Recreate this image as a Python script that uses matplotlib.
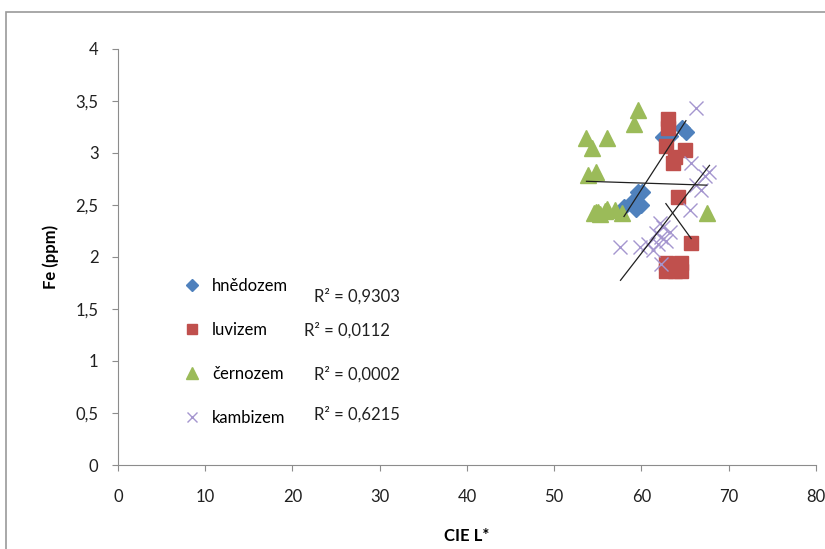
import numpy as np
import matplotlib
matplotlib.use("Agg")
import matplotlib.pyplot as plt
from matplotlib.patches import Rectangle

plt.rcParams['font.family'] = ['Lato', 'DejaVu Sans']

# hnedozem (blue diamonds)
hn_x = [58.0, 58.9, 59.4, 59.6, 60.1, 59.9, 62.5, 63.3, 64.6, 65.1]
hn_y = [2.48, 2.53, 2.46, 2.62, 2.62, 2.50, 3.15, 3.16, 3.24, 3.20]

# luvizem (red squares)
lu_x = [63.0, 63.0, 62.8, 65.0, 63.8, 63.6, 64.2, 65.7, 62.8, 64.5, 62.8, 63.8,
        64.5, 63.3, 63.5, 64.0]
lu_y = [3.33, 3.24, 3.07, 3.03, 2.96, 2.90, 2.58, 2.13, 1.94, 1.94, 1.86, 1.86,
        1.86, 1.90, 1.88, 1.92]

# cernozem (green triangles)
ce_x = [59.6, 59.2, 53.7, 56.0, 54.3, 53.9, 54.8, 54.8, 56.1, 57.0, 57.8, 67.5,
        55.3, 55.8, 54.6, 55.0]
ce_y = [3.41, 3.28, 3.14, 3.14, 3.05, 2.79, 2.82, 2.43, 2.46, 2.45, 2.42, 2.42,
        2.41, 2.44, 2.42, 2.43]

# kambizem (purple crosses)
ka_x = [66.2, 65.7, 67.3, 67.8, 66.2, 66.8, 65.6, 62.1, 62.5, 63.3, 61.7, 62.2,
        62.8, 61.9, 60.8, 61.3, 62.2, 57.6, 59.8]
ka_y = [3.43, 2.90, 2.78, 2.82, 2.69, 2.64, 2.45, 2.33, 2.29, 2.24, 2.23, 2.19,
        2.15, 2.12, 2.12, 2.07, 1.93, 2.10, 2.10]

labels = ['hnědozem', 'luvizem', 'černozem', 'kambizem']
r2_text = ['R² = 0,9303', 'R² = 0,0112', 'R² = 0,0002', 'R² = 0,6215']
r2_pos = [(22.5, 1.62), (21.3, 1.29), (22.5, 0.87), (22.5, 0.49)]

fig = plt.figure(figsize=(8.25, 5.49), dpi=100)
ax = fig.add_axes([0.143, 0.153, 0.846, 0.758])

# outer chart frame
fig.patches.append(Rectangle((6 / 825, -0.1), 1.0, 1.078, transform=fig.transFigure,
                             fill=False, ec='#9a9a9a', lw=1.2))

ax.plot(hn_x, hn_y, 'D', color='#4F81BD', ms=8, mec='#4F81BD', label=labels[0], zorder=3)
ax.plot(lu_x, lu_y, 's', color='#C0504D', ms=10, mec='#C0504D', label=labels[1], zorder=3)
ax.plot(ce_x, ce_y, '^', color='#9BBB59', ms=11, mec='#9BBB59', label=labels[2], zorder=3)
ax.plot(ka_x, ka_y, 'x', color='#A596CF', ms=10, mew=1.0, label=labels[3], zorder=3)

# linear trend lines
for xs, ys in [(hn_x, hn_y), (lu_x, lu_y), (ce_x, ce_y), (ka_x, ka_y)]:
    xs = np.array(xs)
    k, q = np.polyfit(xs, ys, 1)
    xl = np.array([xs.min(), xs.max()])
    ax.plot(xl, k * xl + q, color='#202020', lw=0.9, zorder=4)

for t, (tx, ty) in zip(r2_text, r2_pos):
    ax.text(tx, ty, t, fontsize=12, va='center', ha='left', color='#202020')

leg = ax.legend(loc='upper left', bbox_to_anchor=(0.07, 0.485), frameon=False,
                fontsize=12, labelspacing=1.68, handletextpad=0.6, markerscale=0.75,
                handlelength=1.2)

ax.set_xlim(0, 80)
ax.set_ylim(0, 4)
ax.set_xticks(range(0, 81, 10))
ax.set_yticks(np.arange(0, 4.01, 0.5))
ax.set_yticklabels([f'{v:g}'.replace('.', ',') for v in np.arange(0, 4.01, 0.5)])
ax.tick_params(direction='out', length=4, color='#8c8c8c', labelsize=12,
               labelcolor='#202020')
ax.tick_params(axis='x', pad=13)
ax.tick_params(axis='y', pad=10)
for s in ['top', 'right']:
    ax.spines[s].set_visible(False)
for s in ['left', 'bottom']:
    ax.spines[s].set_color('#8c8c8c')

ax.set_xlabel('CIE L*', fontsize=12, fontweight='bold', labelpad=17)
ax.set_ylabel('Fe (ppm)', fontsize=12, fontweight='bold', labelpad=12)

fig.savefig('out.png', dpi=100)
